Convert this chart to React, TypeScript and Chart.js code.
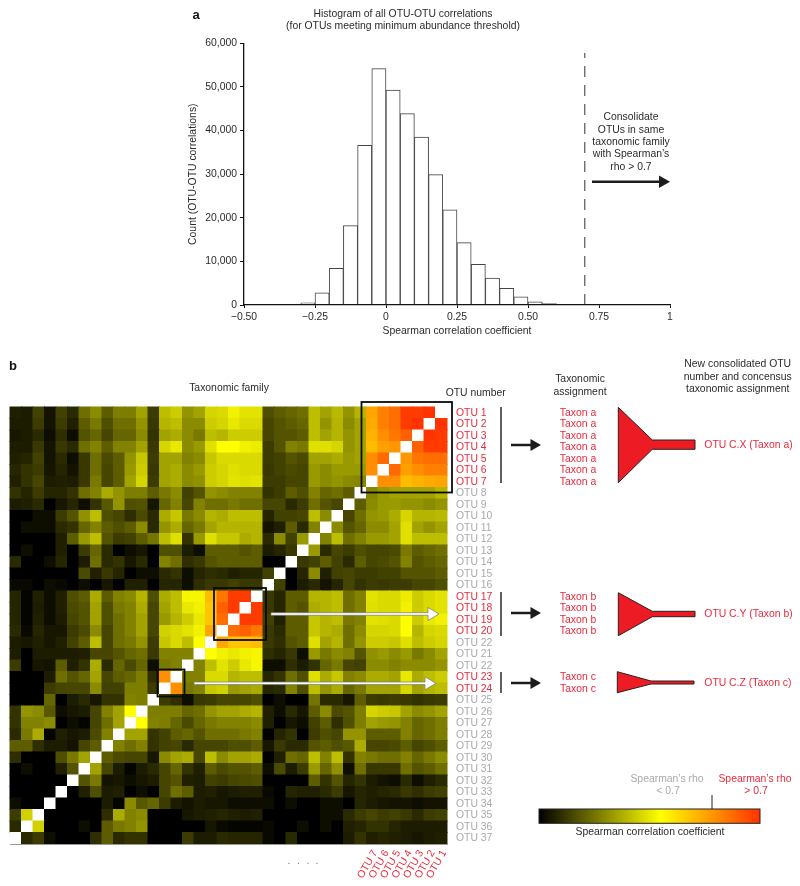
import React, { useEffect, useRef } from "react";
import { Chart, registerables } from "chart.js";

Chart.register(...registerables);

// ---------- panel a: histogram ----------
const binCenters = [-0.325, -0.275, -0.225, -0.175, -0.125, -0.075, -0.025, 0.025, 0.075, 0.125, 0.175, 0.225, 0.275, 0.325, 0.375, 0.425, 0.475, 0.525, 0.575, 0.625, 0.675, 0.725, 0.775, 0.825, 0.875];
const binCounts = [100, 500, 2800, 8400, 18200, 36600, 54200, 49300, 43900, 38500, 29900, 21800, 14300, 9300, 6200, 3800, 1900, 750, 300, 150, 80, 50, 30, 20, 10];
const histXTickValues = [-0.5, -0.25, 0, 0.25, 0.5, 0.75, 1];
const histXTickLabels = ["\u22120.50", "\u22120.25", "0", "0.25", "0.50", "0.75", "1"];
const thresholdLine = [{ x: 0.7, y: 0 }, { x: 0.7, y: 57800 }];

// ---------- panel b: heat map ----------
const yTickLabels = ["OTU 1", "OTU 2", "OTU 3", "OTU 4", "OTU 5", "OTU 6", "OTU 7", "OTU 8", "OTU 9", "OTU 10", "OTU 11", "OTU 12", "OTU 13", "OTU 14", "OTU 15", "OTU 16", "OTU 17", "OTU 18", "OTU 19", "OTU 20", "OTU 22", "OTU 21", "OTU 22", "OTU 23", "OTU 24", "OTU 25", "OTU 26", "OTU 27", "OTU 28", "OTU 29", "OTU 30", "OTU 31", "OTU 32", "OTU 33", "OTU 34", "OTU 35", "OTU 36", "OTU 37"];
const redRows = [0, 1, 2, 3, 4, 5, 6, 16, 17, 18, 19, 23, 24];
const xTickLabels = ["OTU 7", "OTU 6", "OTU 5", "OTU 4", "OTU 3", "OTU 2", "OTU 1"];
// Upper-left triangle of the symmetric matrix, as a position (0-100) on the colour bar; the white diagonal follows each row.
const heatTriangle = [
  [7, 6, 14, 4, 14, 9, 24, 30, 20, 27, 27, 35, 13, 41, 44, 32, 35, 46, 47, 52, 49, 49, 17, 20, 22, 24, 41, 35, 40, 32, 39, 75, 83, 87, 98, 98, 100],
  [6, 6, 13, 4, 13, 7, 20, 26, 17, 24, 24, 32, 12, 39, 41, 30, 30, 44, 46, 50, 47, 47, 15, 18, 20, 22, 41, 32, 39, 30, 35, 74, 83, 87, 98, 100],
  [5, 6, 9, 3, 10, 3, 18, 22, 15, 22, 22, 30, 11, 35, 37, 30, 26, 41, 39, 44, 44, 44, 15, 18, 18, 20, 41, 35, 39, 32, 35, 72, 80, 85, 90],
  [6, 6, 12, 4, 12, 9, 24, 28, 20, 28, 28, 35, 12, 46, 50, 30, 33, 48, 55, 55, 52, 51, 13, 18, 28, 26, 48, 48, 46, 32, 35, 70, 76, 78],
  [7, 8, 14, 4, 9, 3, 12, 24, 16, 20, 32, 43, 13, 35, 35, 28, 30, 43, 47, 47, 47, 47, 13, 14, 18, 16, 35, 35, 37, 33, 35, 80, 88],
  [8, 11, 13, 5, 8, 4, 12, 24, 15, 20, 33, 44, 12, 35, 37, 30, 33, 44, 46, 48, 47, 47, 12, 14, 16, 15, 33, 30, 33, 33, 33, 80],
  [7, 11, 15, 6, 7, 6, 12, 26, 15, 20, 35, 46, 13, 35, 37, 30, 31, 44, 46, 49, 48, 49, 13, 13, 15, 15, 33, 30, 32, 30, 29],
  [11, 8, 13, 8, 8, 11, 24, 28, 37, 32, 27, 27, 20, 26, 30, 14, 18, 32, 30, 28, 28, 28, 11, 13, 20, 17, 28, 22, 24, 20],
  [6, 7, 9, 0, 5, 8, 3, 11, 19, 32, 17, 18, 5, 22, 28, 15, 28, 24, 24, 26, 24, 24, 15, 15, 9, 13, 24, 18, 15],
  [0, 0, 3, 3, 13, 18, 31, 41, 17, 15, 10, 16, 9, 37, 43, 26, 30, 39, 37, 41, 41, 41, 8, 14, 14, 15, 41, 30],
  [0, 3, 3, 3, 9, 11, 22, 28, 20, 17, 20, 30, 9, 32, 37, 22, 26, 35, 39, 39, 39, 39, 4, 7, 20, 9, 28],
  [0, 0, 0, 0, 7, 20, 33, 41, 18, 13, 14, 20, 25, 41, 48, 11, 33, 48, 43, 43, 37, 39, 9, 30, 14, 33],
  [0, 3, 0, 0, 7, 0, 13, 22, 9, 0, 3, 5, 0, 17, 17, 6, 3, 20, 20, 20, 18, 20, 6, 8, 12],
  [9, 0, 0, 3, 8, 0, 6, 24, 9, 11, 5, 9, 0, 28, 24, 10, 12, 18, 20, 20, 20, 20, 0, 0],
  [0, 0, 0, 0, 0, 0, 16, 7, 12, 8, 0, 3, 3, 9, 11, 3, 8, 10, 9, 7, 8, 8, 14],
  [2, 2, 0, 3, 2, 0, 3, 0, 5, 0, 7, 7, 0, 8, 8, 3, 10, 12, 12, 14, 12, 12],
  [8, 1, 7, 3, 7, 17, 20, 37, 20, 28, 30, 39, 17, 37, 41, 53, 53, 70, 85, 98, 98],
  [8, 1, 6, 3, 7, 16, 18, 35, 17, 26, 28, 37, 15, 35, 41, 50, 52, 68, 90, 98],
  [8, 1, 7, 3, 6, 15, 18, 35, 17, 24, 28, 35, 15, 33, 39, 44, 50, 68, 87],
  [9, 2, 8, 5, 5, 13, 16, 30, 15, 24, 28, 35, 15, 45, 47, 49, 52, 75],
  [6, 5, 7, 5, 7, 14, 20, 41, 15, 24, 26, 32, 13, 43, 47, 41, 55],
  [6, 0, 6, 6, 6, 6, 7, 15, 15, 18, 22, 24, 12, 28, 28, 28],
  [13, 0, 5, 4, 20, 7, 11, 37, 9, 22, 16, 22, 3, 26, 28],
  [0, 0, 0, 6, 24, 18, 22, 35, 15, 20, 22, 27, 10, 80],
  [0, 0, 0, 13, 15, 15, 15, 30, 14, 14, 27, 27, 13],
  [0, 0, 0, 22, 0, 6, 9, 5, 11, 11, 28, 27],
  [11, 32, 30, 19, 3, 5, 6, 15, 28, 35, 55],
  [11, 28, 28, 30, 0, 3, 1, 15, 24, 35],
  [9, 26, 37, 1, 7, 5, 6, 16, 28],
  [20, 20, 10, 6, 6, 4, 15, 20],
  [10, 0, 0, 0, 17, 26, 35],
  [0, 3, 0, 0, 7, 18],
  [0, 0, 0, 0, 0],
  [0, 0, 0, 0],
  [3, 0, 0],
  [13, 45],
  [9],
  [],
];

const N = 38;
const FONT = '"Liberation Sans", Arial, sans-serif';
const FS = 10.4;
const INK = "#2b2b2b";
const RED = "#ea2a3c";
const GREY = "#a9a9a9";
const FUNNEL = "#ed1c24";
const B_TOP = 345; // top of the panel-b canvas in page pixels

function colourAt(p: number | null) {
  if (p === null) return "#ffffff";
  if (p <= 55) {
    const b = Math.round((p / 55) * 255);
    return `rgb(${b},${b},0)`;
  }
  if (p <= 75) return `rgb(255,${Math.round(255 - (p - 55) * 4.5)},0)`;
  return `rgb(255,${Math.round(165 - (p - 75) * 4.6)},0)`;
}

function cellValue(r: number, c: number): number | null {
  if (r + c === N - 1) return null;
  if (r + c < N - 1) return heatTriangle[r][c];
  return heatTriangle[N - 1 - c][N - 1 - r];
}

function buildCells() {
  const cells: { x: number; y: number; v: number | null }[] = [];
  for (let r = 0; r < N; r++) for (let c = 0; c < N; c++) cells.push({ x: c, y: r, v: cellValue(r, c) });
  return cells;
}

function label(ctx: CanvasRenderingContext2D, text: string, x: number, y: number, color = INK, align: CanvasTextAlign = "center", font = `${FS}px ${FONT}`) {
  ctx.font = font;
  ctx.fillStyle = color;
  ctx.textAlign = align;
  ctx.textBaseline = "middle";
  ctx.fillText(text, x, y);
}

function arrow(ctx: CanvasRenderingContext2D, x0: number, x1: number, y: number, lw: number, hl: number, hh: number, color: string, outline?: string) {
  ctx.save();
  ctx.fillStyle = color;
  ctx.beginPath();
  ctx.moveTo(x0, y - lw / 2);
  ctx.lineTo(x1 - hl, y - lw / 2);
  ctx.lineTo(x1 - hl, y - hh / 2);
  ctx.lineTo(x1, y);
  ctx.lineTo(x1 - hl, y + hh / 2);
  ctx.lineTo(x1 - hl, y + lw / 2);
  ctx.lineTo(x0, y + lw / 2);
  ctx.closePath();
  ctx.fill();
  if (outline) {
    ctx.strokeStyle = outline;
    ctx.lineWidth = 0.7;
    ctx.stroke();
  }
  ctx.restore();
}

function funnel(ctx: CanvasRenderingContext2D, x0: number, xn: number, x1: number, top: number, bottom: number, nt: number, nb: number) {
  ctx.save();
  ctx.beginPath();
  ctx.moveTo(x0, top);
  ctx.lineTo(xn, nt);
  ctx.lineTo(x1, nt);
  ctx.lineTo(x1, nb);
  ctx.lineTo(xn, nb);
  ctx.lineTo(x0, bottom);
  ctx.closePath();
  ctx.fillStyle = FUNNEL;
  ctx.fill();
  ctx.strokeStyle = "#2a2020";
  ctx.lineWidth = 1;
  ctx.stroke();
  ctx.restore();
}

const histDecor = {
  id: "histDecor",
  afterLayout(chart: any) {
    if (chart.titleBlock) {
      chart.titleBlock.left = 6;
      chart.titleBlock.right = 800;
    }
  },
  afterDraw(chart: any) {
    const ctx = chart.ctx;
    ctx.save();
    label(ctx, "a", 196, 15, "#111", "center", `bold 13px ${FONT}`);
    ["Consolidate", "OTUs in same", "taxonomic family", "with Spearman\u2019s", "rho > 0.7"].forEach((t, i) => label(ctx, t, 631, 117.3 + i * 12.4));
    arrow(ctx, 592, 670, 181.7, 2.6, 11, 12.5, "#1c1c1c");
    ctx.restore();
  },
};

const boxes = [
  { r0: 0, r1: 6, c0: 31, c1: 37, pad: 5 },
  { r0: 16, r1: 19, c0: 18, c1: 21, pad: 3 },
  { r0: 23, r1: 24, c0: 13, c1: 14, pad: 2 },
];

const heatDecor = {
  id: "heatDecor",
  afterDraw(chart: any) {
    const ctx: CanvasRenderingContext2D = chart.ctx;
    const xs = chart.scales.x;
    const ys = chart.scales.y;
    const rowY = (r: number) => ys.getPixelForValue(r) + B_TOP;
    ctx.save();
    ctx.translate(0, -B_TOP);

    // selection boxes
    ctx.strokeStyle = "#0a0a0a";
    ctx.lineWidth = 1.8;
    boxes.forEach((b) => {
      const l = xs.getPixelForValue(b.c0 - 0.5) - b.pad;
      const rr = xs.getPixelForValue(b.c1 + 0.5) + b.pad;
      const t = rowY(b.r0 - 0.5) - b.pad;
      const bt = rowY(b.r1 + 0.5) + b.pad;
      ctx.strokeRect(l, t, rr - l, bt - t);
    });

    // white arrows across the map
    arrow(ctx, 271, 439, 614, 2.6, 11, 13, "#ffffff", "#777");
    arrow(ctx, 194, 436, 683.3, 2.6, 11, 13, "#ffffff", "#777");

    // headers
    label(ctx, "b", 13, 366, "#111", "center", `bold 13px ${FONT}`);
    label(ctx, "Taxonomic family", 229, 388);
    label(ctx, "OTU number", 475.7, 392.7);
    label(ctx, "Taxonomic", 580, 379);
    label(ctx, "assignment", 580, 391.7);
    label(ctx, "New consolidated OTU", 737.7, 364.5);
    label(ctx, "number and concensus", 737.7, 377);
    label(ctx, "taxonomic assignment", 737.7, 389.5);

    // brackets
    ctx.strokeStyle = "#2a2a2a";
    ctx.lineWidth = 1.5;
    [[407, 483], [592, 636], [672, 693]].forEach(([a, b]) => {
      ctx.beginPath();
      ctx.moveTo(501, a);
      ctx.lineTo(501, b);
      ctx.stroke();
    });

    // black arrows
    [445, 613, 683].forEach((y) => arrow(ctx, 511, 541, y, 2.3, 10.5, 12, "#1c1c1c"));

    // taxon columns
    [0, 1, 2, 3, 4, 5, 6].forEach((r) => label(ctx, "Taxon a", 578, rowY(r), RED));
    [16, 17, 18, 19].forEach((r) => label(ctx, "Taxon b", 578, rowY(r), RED));
    [23, 24].forEach((r) => label(ctx, "Taxon c", 578, rowY(r), RED));

    // funnels
    funnel(ctx, 618.3, 652.3, 695, 407.3, 482.7, 440, 449.3);
    funnel(ctx, 618.3, 652.3, 695, 592.7, 635.7, 611.3, 616.7);
    funnel(ctx, 617.3, 651, 694, 671.7, 692.7, 681, 684);
    label(ctx, "OTU C.X (Taxon a)", 704.3, 445, RED, "left");
    label(ctx, "OTU C.Y (Taxon b)", 704.3, 614, RED, "left");
    label(ctx, "OTU C.Z (Taxon c)", 704.3, 682.7, RED, "left");

    // column-label ellipsis
    label(ctx, ".", 289, 861, "#777");
    label(ctx, ".", 298.5, 861, "#777");
    label(ctx, ".", 308, 861, "#777");
    label(ctx, ".", 317, 861, "#777");

    // colour bar
    const grad = ctx.createLinearGradient(539, 0, 760, 0);
    for (let p = 0; p <= 100; p += 5) grad.addColorStop(p / 100, colourAt(p));
    ctx.fillStyle = grad;
    ctx.fillRect(539, 809, 221, 14.3);
    ctx.strokeStyle = "#222";
    ctx.lineWidth = 1;
    ctx.strokeRect(539, 809, 221, 14.3);
    ctx.beginPath();
    ctx.moveTo(712, 795);
    ctx.lineTo(712, 809);
    ctx.stroke();
    label(ctx, "Spearman correlation coefficient", 650, 832);
    label(ctx, "Spearman\u2019s rho", 667, 779, GREY);
    label(ctx, "< 0.7", 668, 791.5, GREY);
    label(ctx, "Spearman\u2019s rho", 755, 779, RED);
    label(ctx, "> 0.7", 756, 791.5, RED);
    ctx.restore();
  },
};

export default function App() {
  const histRef = useRef<HTMLCanvasElement>(null);
  const heatRef = useRef<HTMLCanvasElement>(null);

  useEffect(() => {
    const tickFont = { family: FONT, size: FS };
    const hist = new Chart(histRef.current as HTMLCanvasElement, {
      type: "bar",
      data: {
        datasets: [
          {
            type: "line",
            data: thresholdLine,
            borderColor: "#333",
            borderWidth: 1,
            borderDash: [11, 8],
            pointRadius: 0,
            order: 0,
          } as any,
          {
            type: "bar",
            data: binCenters.map((x, i) => ({ x, y: binCounts[i] })),
            backgroundColor: "#ffffff",
            borderColor: "#444",
            borderWidth: 1,
            barPercentage: 1,
            categoryPercentage: 1,
            order: 1,
          } as any,
        ],
      },
      options: {
        responsive: false,
        animation: false,
        events: [],
        layout: { padding: { left: 180, right: 130, top: 0, bottom: 0 } },
        plugins: {
          legend: { display: false },
          tooltip: { enabled: false },
          title: {
            display: true,
            text: ["Histogram of all OTU-OTU correlations", "(for OTUs meeting minimum abundance threshold)"],
            color: INK,
            font: { family: FONT, size: FS, weight: "normal", lineHeight: 1.2 },
            padding: { top: 7.8, bottom: 10.6 },
          },
        },
        scales: {
          x: {
            type: "linear",
            min: -0.5,
            max: 1,
            offset: false,
            grid: { display: true, drawOnChartArea: false, offset: false, drawTicks: true, tickLength: 3, color: "#111", lineWidth: 1 } as any,
            border: { color: "#111", width: 1.3, z: 1 },
            afterFit: (s: any) => { s.height = 40; },
            afterBuildTicks: (s: any) => { s.ticks = histXTickValues.map((value) => ({ value })); },
            ticks: {
              color: INK,
              font: tickFont,
              padding: 3,
              maxRotation: 0,
              minRotation: 0,
              autoSkip: false,
              callback: (v: any) => histXTickLabels[histXTickValues.indexOf(Number(v))],
            },
            title: { display: true, text: "Spearman correlation coefficient", color: INK, font: tickFont, padding: { top: 0, bottom: 8 } },
          },
          y: {
            type: "linear",
            min: 0,
            max: 60000,
            grid: { display: true, drawOnChartArea: false, drawTicks: true, tickLength: 4, color: "#111", lineWidth: 1 } as any,
            border: { color: "#111", width: 1.3, z: 1 },
            afterFit: (s: any) => { s.width = 64; },
            ticks: {
              stepSize: 10000,
              color: INK,
              font: tickFont,
              padding: 3,
              callback: (v: any) => Number(v).toLocaleString("en-US"),
            },
            title: { display: true, text: "Count (OTU-OTU correlations)", color: INK, font: tickFont, padding: { top: 6.5, bottom: 0 } },
          },
        },
      } as any,
      plugins: [histDecor],
    } as any);

    const cells = buildCells();
    const heat = new Chart(heatRef.current as HTMLCanvasElement, {
      type: "scatter",
      data: {
        datasets: [
          {
            data: cells,
            pointStyle: "rect",
            pointRadius: 8.84,
            pointBorderWidth: 0,
            pointBackgroundColor: cells.map((d) => colourAt(d.v)),
            clip: false,
          } as any,
        ],
      },
      options: {
        responsive: false,
        animation: false,
        events: [],
        layout: { padding: { left: 10, right: 0, top: 62, bottom: 0 } },
        plugins: { legend: { display: false }, tooltip: { enabled: false } },
        scales: {
          x: {
            type: "linear",
            min: -0.5,
            max: N - 0.5,
            grid: { display: false, drawTicks: false },
            border: { display: true, color: "#999", width: 1, z: 2 },
            afterFit: (s: any) => { s.height = 42; },
            afterBuildTicks: (s: any) => { s.ticks = Array.from({ length: N }, (_, i) => ({ value: i + 0.26 })); },
            ticks: {
              autoSkip: false,
              color: RED,
              font: tickFont,
              padding: 4,
              minRotation: 60,
              maxRotation: 60,
              callback: (_v: any, i: number) => {
                const k = i - (N - xTickLabels.length);
                return k >= 0 ? xTickLabels[k] : "";
              },
            },
          },
          y: {
            type: "linear",
            position: "right",
            reverse: true,
            min: -0.5,
            max: N - 0.5,
            grid: { display: false, drawTicks: false },
            border: { display: false },
            afterFit: (s: any) => { s.width = 353; },
            afterBuildTicks: (s: any) => { s.ticks = Array.from({ length: N }, (_, i) => ({ value: i })); },
            ticks: {
              autoSkip: false,
              font: tickFont,
              padding: 9,
              color: (c: any) => (redRows.includes(c.tick.value) ? RED : GREY),
              callback: (v: any) => yTickLabels[Number(v)],
            },
          },
        },
      } as any,
      plugins: [heatDecor],
    } as any);

    return () => {
      hist.destroy();
      heat.destroy();
    };
  }, []);

  return (
    <div style={{ position: "absolute", left: 0, top: 0, width: 800, height: 886, background: "#fff", overflow: "hidden" }}>
      <canvas ref={histRef} width={800} height={B_TOP} style={{ position: "absolute", left: 0, top: 0, display: "block" }} />
      <canvas ref={heatRef} width={800} height={886 - B_TOP} style={{ position: "absolute", left: 0, top: B_TOP, display: "block" }} />
    </div>
  );
}
